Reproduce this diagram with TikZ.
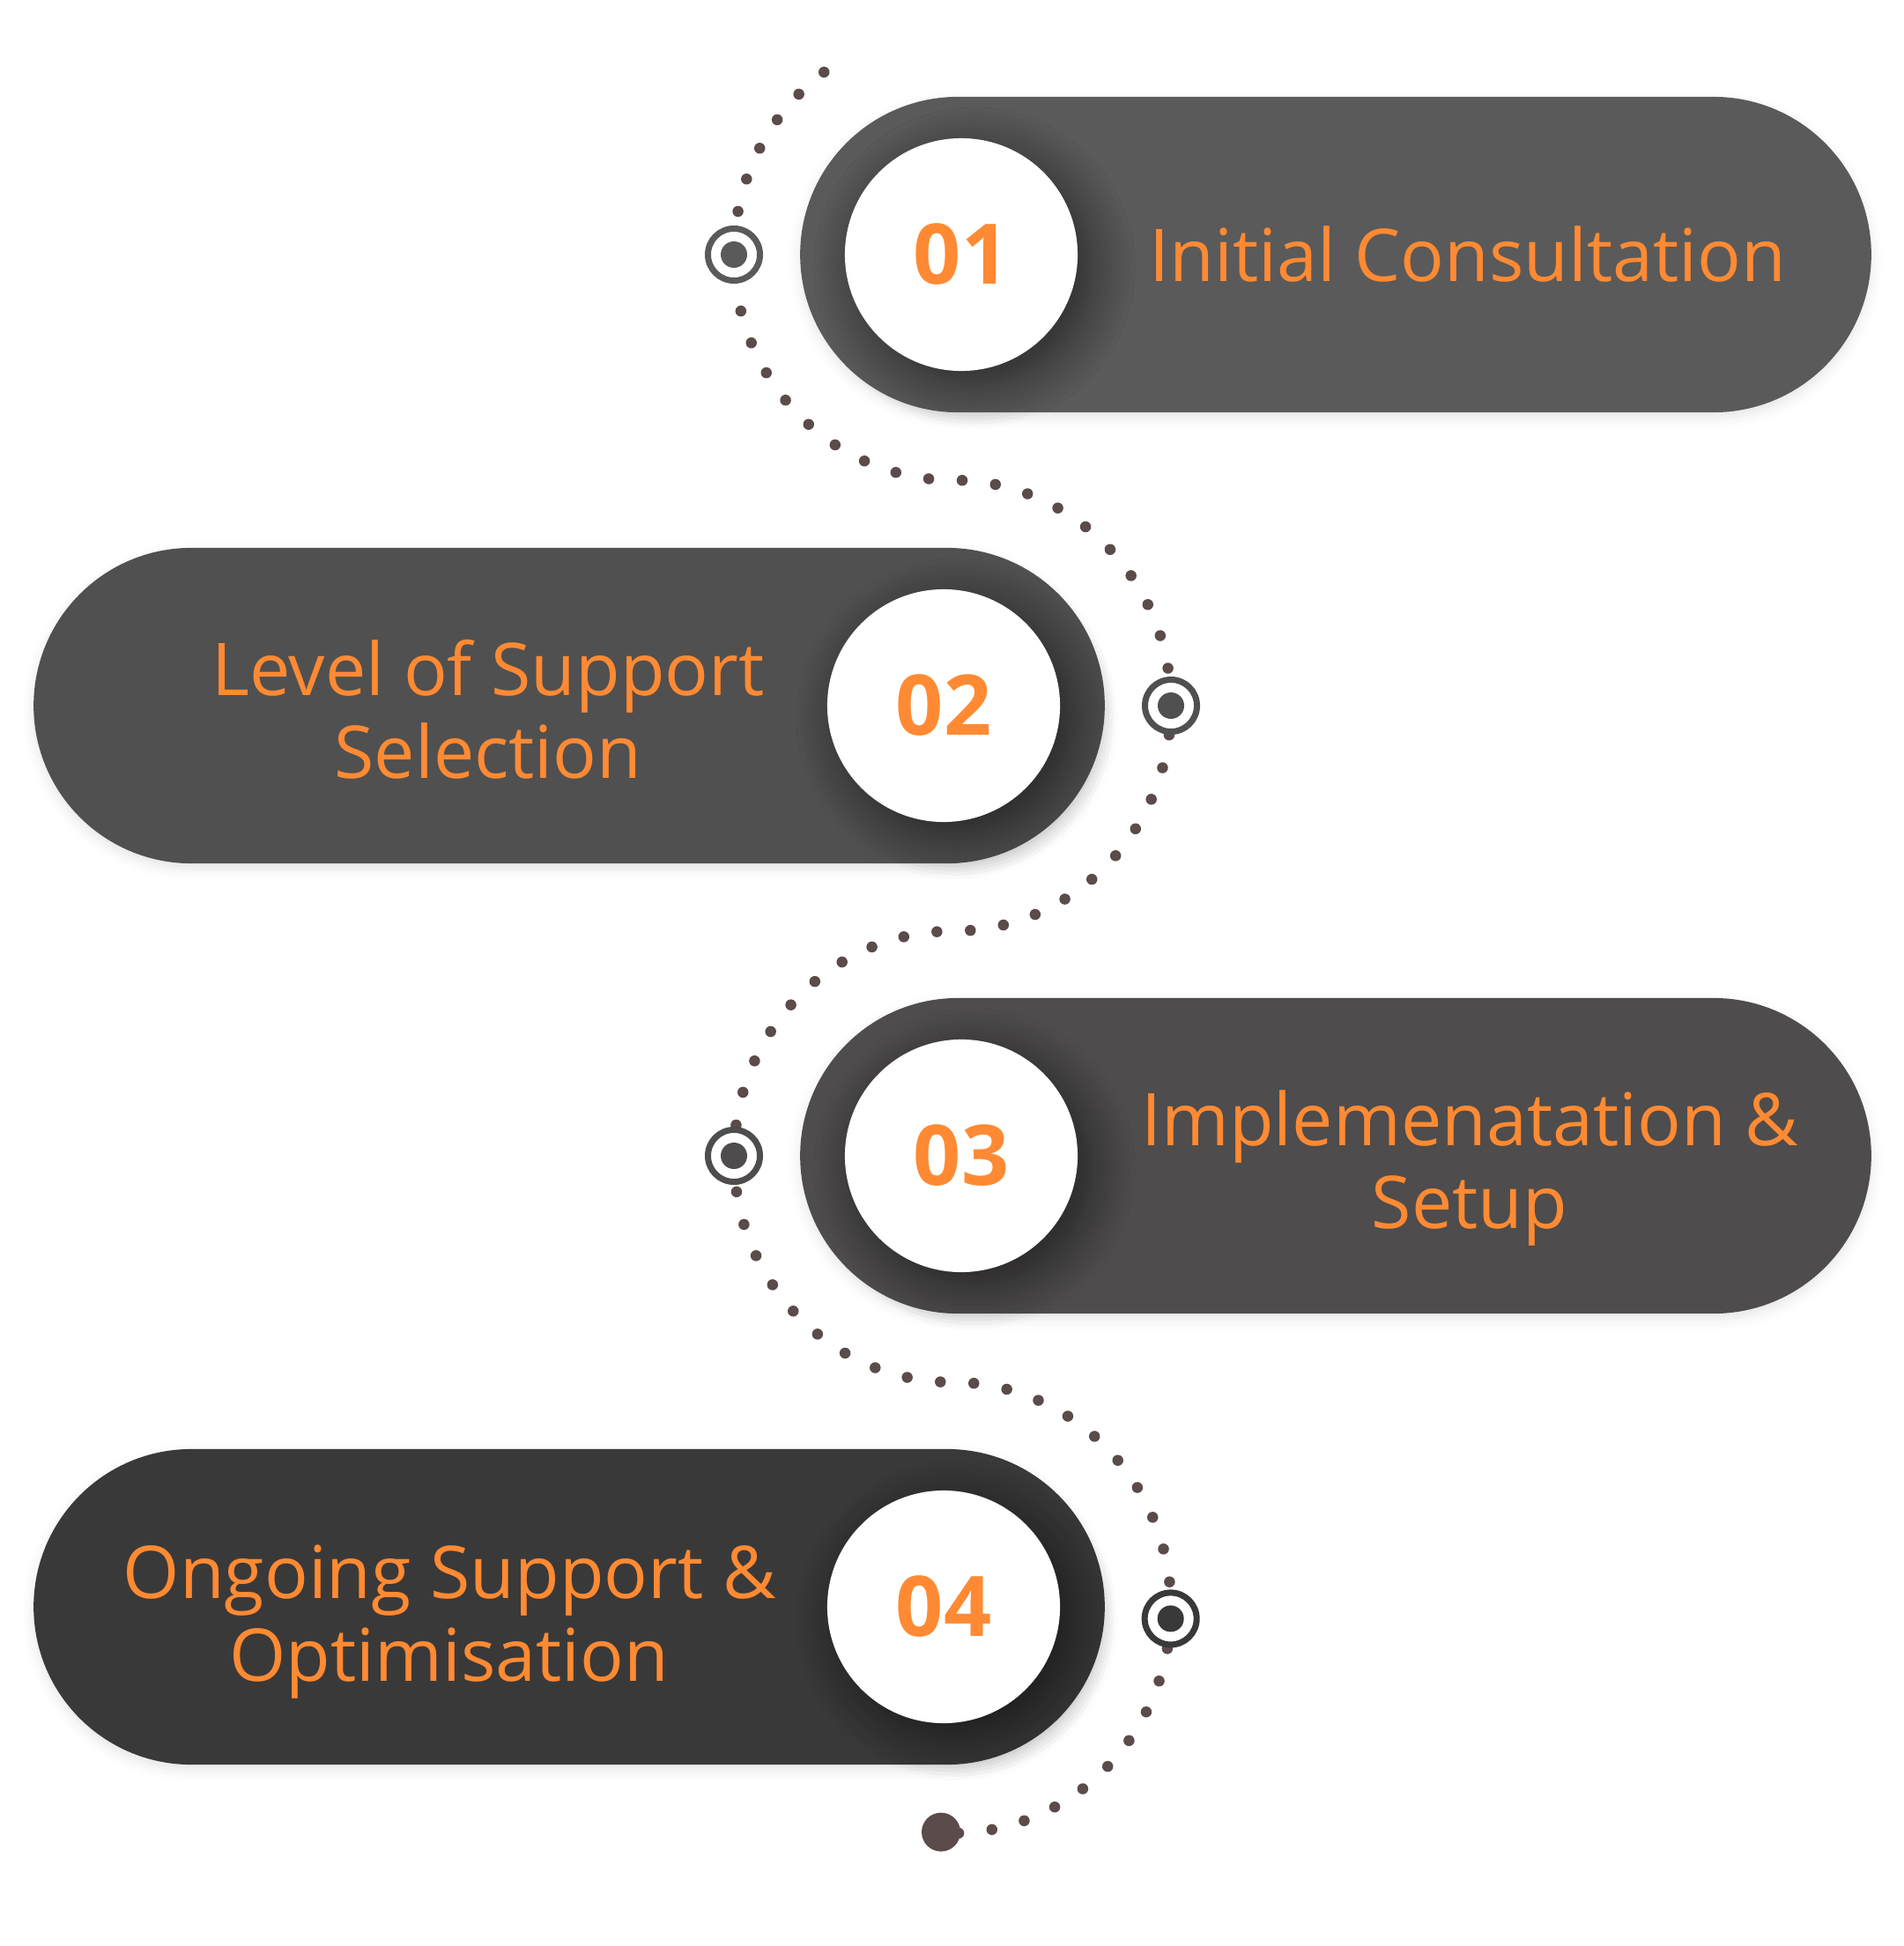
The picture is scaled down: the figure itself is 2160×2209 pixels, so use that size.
\documentclass[tikz,border=0pt]{standalone}
\usepackage{fontspec}
\setmainfont{Open Sans}
\usepackage{tikz}
\usetikzlibrary{calc,shapes.misc,shadows.blur}
\definecolor{spOrange}{HTML}{FF8A33}
\definecolor{spDot}{HTML}{5B4B4B}
\definecolor{spPillA}{HTML}{5A5A5A}
\definecolor{spPillB}{HTML}{505050}
\definecolor{spPillC}{HTML}{4E4C4C}
\definecolor{spPillD}{HTML}{3A3939}
\tikzset{
  sp diagram/.style={x=0.01cm, y=0.01cm, text=spOrange},
  sp pill/.style={rounded rectangle, fill=#1, minimum width=12.15cm,
    minimum height=3.58cm, inner sep=0pt,
    blur shadow={shadow xshift=0cm, shadow yshift=-0.06cm,
      shadow blur radius=0.12cm, shadow opacity=10}},
  sp number/.style={circle, fill=white, minimum size=2.64cm, inner sep=0pt,
    font=\fontsize{27}{30}\selectfont\bfseries,
    blur shadow={shadow xshift=0.15cm, shadow yshift=-0.15cm,
      shadow blur radius=0.5cm, shadow blur steps=12, shadow opacity=55}},
  sp label/.style={align=center, font=\fontsize{23.5}{26.7}\selectfont},
  sp marker/.style={circle, draw=#1, fill=white, line width=0.07cm,
    minimum size=0.59cm, inner sep=0pt,
    path picture={\fill[#1] (path picture bounding box.center) circle (0.15cm);}},
  sp end/.style={circle, fill=spDot, minimum size=0.44cm, inner sep=0pt},
  sp trail/.style={draw=spDot, line width=0.125cm, line cap=round,
    dash pattern=on 0pt off 0.38cm}
}
\begin{document}
\begin{tikzpicture}[sp diagram]
\useasboundingbox (0,0) rectangle (2160,-2209);
\node[sp pill=spPillA] (p1) at (1516,-289) {};
\node[sp pill=spPillB] (p2) at (646,-801) {};
\node[sp pill=spPillC] (p3) at (1516,-1312) {};
\node[sp pill=spPillD] (p4) at (646,-1824) {};
\node[sp number] (n1) at (1091,-289) {01};
\node[sp number] (n2) at (1071,-801) {02};
\node[sp number] (n3) at (1091,-1312) {03};
\node[sp number] (n4) at (1071,-1824) {04};
\node[sp label] (t1) at (1666,-289) {Initial Consultation};
\node[sp label] (t2) at (554,-805) {Level of Support\\Selection};
\node[sp label] (t3) at (1668,-1326) {Implemenatation \&\\Setup};
\node[sp label] (t4) at (510,-1841) {Ongoing Support \&\\Optimisation};
\coordinate (a1) at (1081,-289);
\coordinate (a2) at (1081,-801);
\coordinate (a3) at (1081,-1312);
\coordinate (a4) at (1081,-1824);
\draw[sp trail] ($(a1)+(126:248 and 256)$)
  arc[start angle=126, end angle=270, x radius=248, y radius=256]
  arc[start angle=90, end angle=-90, x radius=248, y radius=256]
  arc[start angle=90, end angle=270, x radius=248, y radius=256]
  arc[start angle=90, end angle=-93, x radius=248, y radius=256];
\node[sp marker=spPillA] (m1) at ($(a1)+(180:248 and 256)$) {};
\node[sp marker=spPillB] (m2) at ($(a2)+(0:248 and 256)$) {};
\node[sp marker=spPillC] (m3) at ($(a3)+(180:248 and 256)$) {};
\node[sp marker=spPillD] (m4) at ($(a4)+(-3:248 and 256)$) {};
\node[sp end] (e) at ($(a4)+(-93:248 and 256)$) {};
\end{tikzpicture}
\end{document}
